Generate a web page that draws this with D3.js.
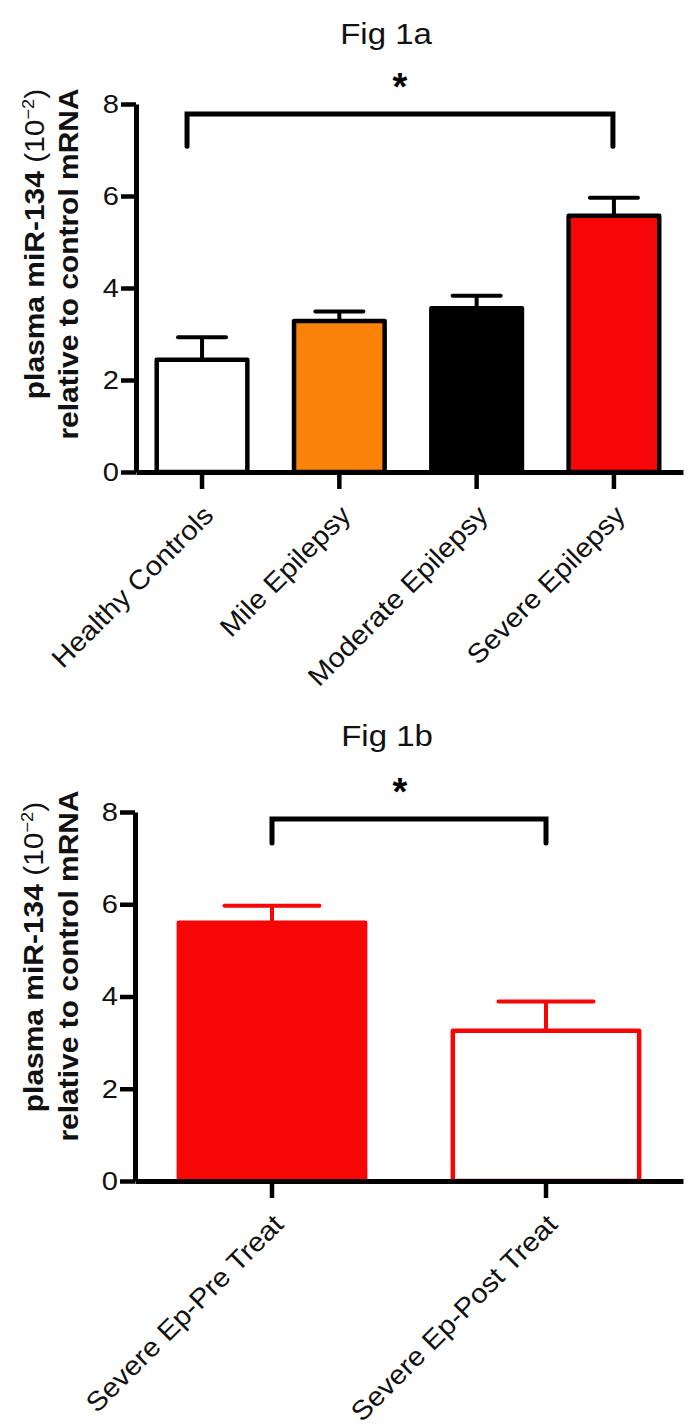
<!DOCTYPE html>
<html>
<head>
<meta charset="utf-8">
<script src="https://cdn.jsdelivr.net/npm/d3@7"></script>
<style>
  html, body { margin: 0; padding: 0; background: #fff; }
  svg { display: block; font-family: "Liberation Sans", Arial, sans-serif; }
</style>
</head>
<body>
<svg id="chart" width="698" height="1427"></svg>
<script>
// ---------- data ----------
const titleA = "Fig 1a";
const categoriesA = ["Healthy Controls", "Mile Epilepsy", "Moderate Epilepsy", "Severe Epilepsy"];
const meansA = [2.44, 3.28, 3.56, 5.57];
const semA = [0.49, 0.21, 0.27, 0.39];
const fillsA = ["#ffffff", "#fb830a", "#000000", "#f70606"];

const titleB = "Fig 1b";
const categoriesB = ["Severe Ep-Pre Treat", "Severe Ep-Post Treat"];
const meansB = [5.60, 3.26];
const semB = [0.37, 0.63];
const fillsB = ["#f70606", "#ffffff"];

const yTicks = [0, 2, 4, 6, 8];
const yLabelLine1Bold = "plasma miR-134";
const yLabelLine2 = "relative to control mRNA";
const sigMark = "*";

// ---------- drawing ----------
const svg = d3.select("#chart");
const SX = 1.08; // horizontal glyph stretch of the original text

function drawPanel(cfg) {
  const g = svg.append("g");
  const y = d3.scaleLinear().domain([0, 8]).range([cfg.y0, cfg.y8]);
  const x = d3.scaleBand().domain(cfg.cats).range([cfg.xL, cfg.xR])
    .paddingInner(cfg.pi).paddingOuter(cfg.po).align(cfg.align);
  const bw = x.bandwidth();
  const cx = c => x(c) + bw / 2;

  // title
  g.append("text")
    .attr("transform", `translate(${cfg.titleX},${cfg.titleY}) scale(1.1,1)`)
    .attr("text-anchor", "middle")
    .attr("font-size", 30)
    .attr("fill", "#111")
    .text(cfg.title);

  // bars
  g.selectAll("rect.bar").data(cfg.means).join("rect")
    .attr("class", "bar")
    .attr("x", (d, i) => x(cfg.cats[i]))
    .attr("width", bw)
    .attr("y", d => y(d))
    .attr("height", d => y(0) - y(d))
    .attr("fill", (d, i) => cfg.fills[i])
    .attr("stroke", cfg.barStroke)
    .attr("stroke-width", 4.5)
    .attr("stroke-linejoin", "round");

  // error bars (upper only)
  const capW = bw * cfg.capFrac;
  cfg.means.forEach((m, i) => {
    const c = cx(cfg.cats[i]);
    g.append("line")
      .attr("x1", c).attr("x2", c)
      .attr("y1", y(m)).attr("y2", y(m + cfg.sem[i]))
      .attr("stroke", cfg.barStroke).attr("stroke-width", 4);
    g.append("line")
      .attr("x1", c - capW / 2).attr("x2", c + capW / 2)
      .attr("y1", y(m + cfg.sem[i])).attr("y2", y(m + cfg.sem[i]))
      .attr("stroke", cfg.barStroke).attr("stroke-width", 4)
      .attr("stroke-linecap", "round");
  });

  // y axis
  const ya = g.append("g")
    .attr("transform", `translate(${cfg.xL},0)`)
    .call(d3.axisLeft(y).tickValues(yTicks).tickSize(15).tickSizeOuter(0).tickFormat(d3.format("d")));
  ya.select(".domain").attr("stroke", "#000").attr("stroke-width", 5);
  ya.selectAll(".tick line").attr("stroke", "#000").attr("stroke-width", 4.5);
  ya.selectAll(".tick text")
    .attr("x", 0)
    .attr("transform", `translate(-17,0) scale(1.12,1)`)
    .attr("font-size", 26)
    .attr("fill", "#111")
    .attr("font-family", "Liberation Sans, Arial, sans-serif");

  // x axis
  const xa = g.append("g")
    .attr("transform", `translate(0,${cfg.y0})`)
    .call(d3.axisBottom(x).tickSize(17).tickSizeOuter(0));
  xa.select(".domain").attr("stroke", "#000").attr("stroke-width", 5);
  xa.selectAll(".tick line").attr("stroke", "#000").attr("stroke-width", 4.5);
  xa.selectAll(".tick text").remove();
  cfg.cats.forEach(c => {
    g.append("text")
      .attr("transform", `translate(${cx(c) + 13},${cfg.y0 + 45}) rotate(-45) scale(${SX},1)`)
      .attr("text-anchor", "end")
      .attr("font-size", 27)
      .attr("fill", "#111")
      .text(c);
  });

  // y label (two lines)
  const l1 = g.append("text")
    .attr("transform", `translate(${cfg.lab1X},${cfg.lab1Y}) rotate(-90) scale(1.07,1)`)
    .attr("text-anchor", "middle")
    .attr("font-size", 28)
    .attr("fill", "#111");
  l1.append("tspan").attr("font-weight", "bold").text(yLabelLine1Bold + " ");
  l1.append("tspan").text("(10");
  l1.append("tspan").attr("dy", -10).attr("font-size", 17).text("\u22122");
  l1.append("tspan").attr("dy", 10).text(")");
  g.append("text")
    .attr("transform", `translate(${cfg.lab2X},${cfg.lab2Y}) rotate(-90) scale(1.07,1)`)
    .attr("text-anchor", "middle")
    .attr("font-size", 28)
    .attr("font-weight", "bold")
    .attr("fill", "#111")
    .text(yLabelLine2);

  // significance bracket
  const bx1 = cx(cfg.cats[cfg.bracket[0]]) + cfg.bracketOff[0];
  const bx2 = cx(cfg.cats[cfg.bracket[1]]) + cfg.bracketOff[1];
  const by = y(cfg.bracketTop), byl = y(cfg.bracketLeg);
  g.append("path")
    .attr("d", `M${bx1},${byl}V${by}H${bx2}V${byl}`)
    .attr("fill", "none").attr("stroke", "#000").attr("stroke-width", 5)
    .attr("stroke-linecap", "round").attr("stroke-linejoin", "miter");
  g.append("text")
    .attr("x", (bx1 + bx2) / 2 + cfg.starDx)
    .attr("y", y(cfg.bracketTop) - 14)
    .attr("text-anchor", "middle")
    .attr("font-size", 38)
    .attr("font-weight", "bold")
    .attr("fill", "#000")
    .text(sigMark);
}

drawPanel({
  title: titleA, titleX: 386, titleY: 44,
  cats: categoriesA, means: meansA, sem: semA, fills: fillsA,
  barStroke: "#000", capFrac: 0.53,
  y0: 472, y8: 104, xL: 136, xR: 683, pi: 0.34, po: 0.162, align: 0.466,
  lab1X: 44, lab1Y: 244, lab2X: 78, lab2Y: 264,
  bracket: [0, 3], bracketOff: [-15, -1], bracketTop: 7.78, bracketLeg: 7.08, starDx: 0
});

drawPanel({
  title: titleB, titleX: 387, titleY: 746,
  cats: categoriesB, means: meansB, sem: semB, fills: fillsB,
  barStroke: "#f70606", capFrac: 0.51,
  y0: 1181, y8: 812, xL: 135, xR: 683, pi: 0.32, po: 0.16, align: 0.5,
  lab1X: 43, lab1Y: 957, lab2X: 78, lab2Y: 966,
  bracket: [0, 1], bracketOff: [0, 0], bracketTop: 7.85, bracketLeg: 7.33, starDx: -9
});
</script>
</body>
</html>
